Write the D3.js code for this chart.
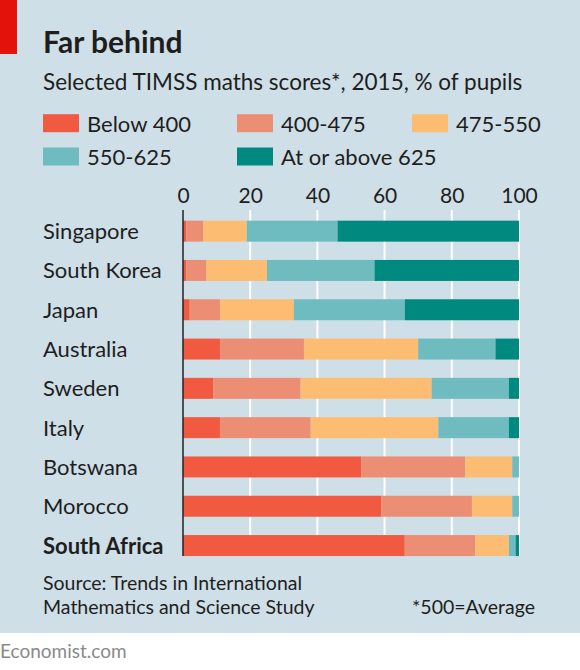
<!DOCTYPE html>
<html>
<head>
<meta charset="utf-8">
<script src="https://cdn.jsdelivr.net/npm/d3@7"></script>
<style>
  html, body { margin: 0; padding: 0; background: #fff; }
  svg { display: block; }
  text { font-family: Lato, "Open Sans", sans-serif; fill: #1e1e1e; }
</style>
</head>
<body>
<script>
const categories = ["Singapore", "South Korea", "Japan", "Australia", "Sweden", "Italy", "Botswana", "Morocco", "South Africa"];
const seriesNames = ["Below 400", "400-475", "475-550", "550-625", "At or above 625"];
const below400   = [1, 1, 2, 11, 9, 11, 53, 59, 66];
const s400to475  = [5, 6, 9, 25, 26, 27, 31, 27, 21];
const s475to550  = [13, 18, 22, 34, 39, 38, 14, 12, 10];
const s550to625  = [27, 32, 33, 23, 23, 21, 2, 2, 2];
const above625   = [54, 43, 34, 7, 3, 3, 0, 0, 1];
const tickValues = [0, 20, 40, 60, 80, 100];
const colors = ["#f15a40", "#eb8e74", "#fcbc72", "#6ebcbf", "#00897f"];

const W = 580, H = 670;
const svg = d3.select("body").append("svg").attr("width", W).attr("height", H);

// panel
svg.append("rect").attr("x", 0).attr("y", 0).attr("width", W).attr("height", 633).attr("fill", "#cedfe7");
svg.append("rect").attr("x", 0).attr("y", 0).attr("width", 17).attr("height", 54).attr("fill", "#e3120b");

svg.append("text").attr("x", 43).attr("y", 53).attr("font-size", 30).attr("font-weight", 700).text("Far behind");
svg.append("text").attr("x", 43).attr("y", 90).attr("font-size", 22.5).text("Selected TIMSS maths scores*, 2015, % of pupils");

// legend
const legendPos = [[43, 131.7], [237, 131.7], [412, 131.7], [43, 165], [237, 165]];
const lg = svg.append("g");
seriesNames.forEach((name, i) => {
  const [lx, ly] = legendPos[i];
  lg.append("rect").attr("x", lx).attr("y", ly - 17.5).attr("width", 36).attr("height", 18).attr("fill", colors[i]);
  lg.append("text").attr("x", lx + 44).attr("y", ly).attr("font-size", 22).text(name);
});

// scales
const x = d3.scaleLinear().domain([0, 100]).range([183, 519]);
const y = d3.scaleBand().domain(categories).range([211.5, 565.2]).paddingInner(0.466).paddingOuter(0.233);

const gridTop = 210, gridBottom = 556;

// tick labels via axis
const axis = d3.axisTop(x).tickValues(tickValues).tickSize(0).tickPadding(0).tickFormat(d3.format("d"));
const ag = svg.append("g").attr("transform", `translate(0,202.7)`).call(axis);
ag.select(".domain").remove();
ag.selectAll("text").attr("font-size", 21).attr("font-family", "Lato, 'Open Sans', sans-serif").attr("fill", "#1e1e1e").attr("dy", 0);

// gridlines
svg.append("g").selectAll("line").data(tickValues.filter(d => d > 0)).join("line")
  .attr("x1", d => x(d)).attr("x2", d => x(d)).attr("y1", gridTop).attr("y2", gridBottom)
  .attr("stroke", "#fff").attr("stroke-width", 2);

// stacked bars
const rows = categories.map((c, i) => ({
  country: c,
  "Below 400": below400[i], "400-475": s400to475[i], "475-550": s475to550[i],
  "550-625": s550to625[i], "At or above 625": above625[i]
}));
const stack = d3.stack().keys(seriesNames)(rows);
svg.append("g").selectAll("g").data(stack).join("g")
  .attr("fill", (d, i) => colors[i])
  .selectAll("rect").data(d => d).join("rect")
  .attr("x", d => x(d[0])).attr("width", d => Math.max(0, x(d[1]) - x(d[0])))
  .attr("y", d => y(d.data.country)).attr("height", y.bandwidth());

// axis line at zero
svg.append("line").attr("x1", x(0)).attr("x2", x(0)).attr("y1", gridTop).attr("y2", gridBottom)
  .attr("stroke", "#222").attr("stroke-width", 1.5);

// category labels
svg.append("g").selectAll("text").data(categories).join("text")
  .attr("x", 43).attr("y", d => y(d) + y.bandwidth() / 2 + 8)
  .attr("font-size", 22)
  .attr("font-weight", d => d === "South Africa" ? 700 : 400)
  .text(d => d);

// footer
svg.append("text").attr("x", 43).attr("y", 590).attr("font-size", 19.5).text("Source: Trends in International");
svg.append("text").attr("x", 43).attr("y", 613.5).attr("font-size", 19.5).text("Mathematics and Science Study");
svg.append("text").attr("x", 535).attr("y", 613.5).attr("font-size", 19.5).attr("text-anchor", "end").text("*500=Average");
svg.append("text").attr("x", 0).attr("y", 658).attr("font-size", 19).style("fill", "#8a8a8a").text("Economist.com");
</script>
</body>
</html>
